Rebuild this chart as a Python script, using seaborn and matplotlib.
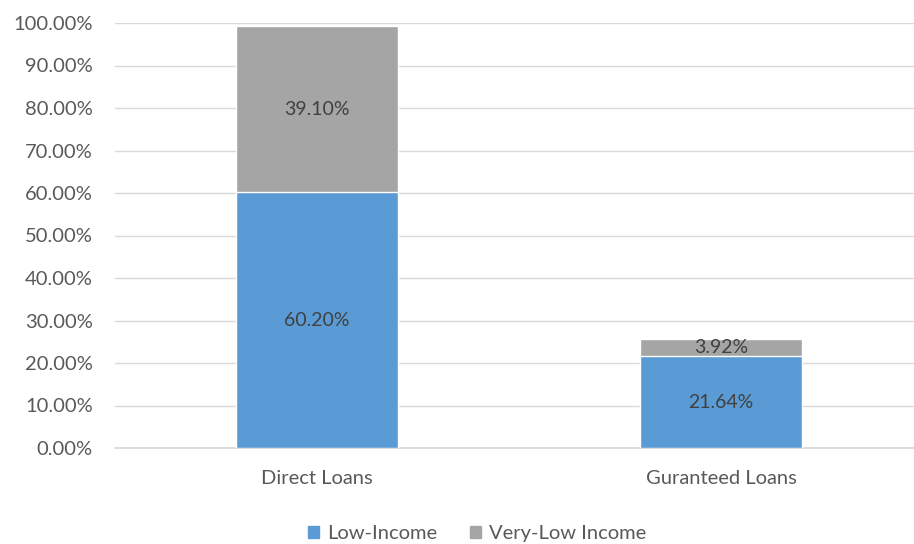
import numpy as np
import pandas as pd
import matplotlib.pyplot as plt
from matplotlib.patches import Patch
from matplotlib.ticker import PercentFormatter
import seaborn as sns

sns.set_theme(style="white")
plt.rcParams["font.family"] = ["Lato", "DejaVu Sans"]

# data
categories = ["Direct Loans", "Guranteed Loans"]
low_income = [60.20, 21.64]
very_low_income = [39.10, 3.92]

BLUE = "#5B9BD5"
GRAY = "#A5A5A5"
TXT = "#595959"

df = pd.DataFrame({"category": categories,
                   "low": low_income,
                   "very_low": very_low_income})
df["total"] = df["low"] + df["very_low"]

fig = plt.figure(figsize=(9.14, 5.44), dpi=100)
# axes: x 115..923 px, y 23..448 px
ax = fig.add_axes([115 / 914, 96 / 544, 808 / 914, 425 / 544])

# stacked: total (gray) behind, low-income (blue) in front
sns.barplot(data=df, x="category", y="total", color=GRAY, width=0.4,
            saturation=1, ax=ax, zorder=2)
sns.barplot(data=df, x="category", y="low", color=BLUE, width=0.4,
            saturation=1, ax=ax, zorder=3)

# value labels
for i, row in df.iterrows():
    ax.text(i, row["low"] / 2, f"{row['low']:.2f}%", ha="center", va="center",
            fontsize=14, color="#404040", zorder=4)
    ax.text(i, row["low"] + row["very_low"] / 2, f"{row['very_low']:.2f}%",
            ha="center", va="center", fontsize=14, color="#404040", zorder=4)

ax.set_ylim(0, 100)
ax.set_xlim(-0.5, 1.5)
ax.set_yticks(np.arange(0, 101, 10))
ax.yaxis.set_major_formatter(PercentFormatter(decimals=2))
ax.grid(axis="y", color="#D9D9D9", linewidth=1, zorder=0)
ax.set_axisbelow(True)
for s in ["top", "right", "left"]:
    ax.spines[s].set_visible(False)
ax.spines["bottom"].set_color("#D9D9D9")
ax.tick_params(axis="both", length=0, labelsize=14.5, colors=TXT)
ax.tick_params(axis="y", pad=16)
ax.tick_params(axis="x", pad=16)
ax.set_xlabel("")
ax.set_ylabel("")

handles = [Patch(color=BLUE, label="Low-Income"),
           Patch(color=GRAY, label="Very-Low Income")]
fig.legend(handles=handles, loc="lower center", ncol=2, frameon=False,
           fontsize=14.5, labelcolor=TXT, handlelength=0.55, handleheight=0.55,
           handletextpad=0.4, columnspacing=1.6, bbox_to_anchor=(0.522, -0.03))

fig.savefig("out.png", dpi=100)
